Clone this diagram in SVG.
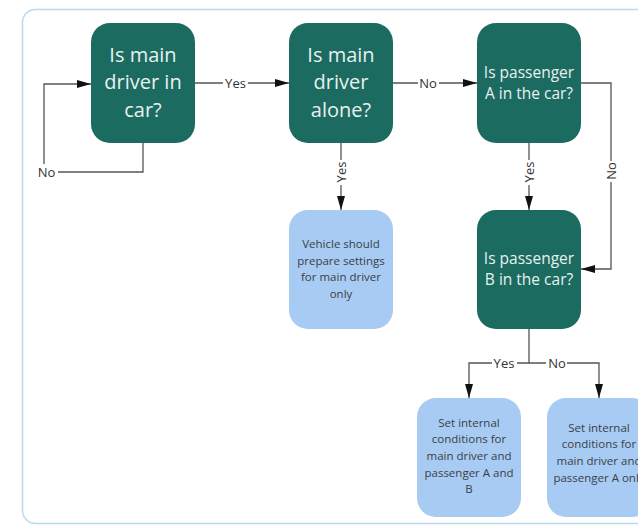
<svg xmlns="http://www.w3.org/2000/svg" width="638" height="525" viewBox="0 0 638 525">
<defs>
<marker id="arr" viewBox="0 0 14 8" markerWidth="14" markerHeight="8" refX="14" refY="4" orient="auto" markerUnits="userSpaceOnUse">
<path d="M0,0 L14,4 L0,8 z" fill="#111"/>
</marker>
<style>
.dark{fill:#1b6b61;}
.light{fill:#a7cbf3;}
.dt{font-family:"Open Sans","Liberation Sans",sans-serif;fill:#e8f1ef;text-anchor:middle;}
.big{font-size:20px;}
.mid{font-size:15.5px;}
.lt{font-family:"Open Sans","Liberation Sans",sans-serif;fill:#3a3f47;text-anchor:middle;font-size:11.5px;}
.ln{fill:none;stroke:#555;stroke-width:1.3;}
.lb{font-family:"Open Sans","Liberation Sans",sans-serif;fill:#333;font-size:13px;text-anchor:middle;dominant-baseline:central;}
.bg{fill:#fff;}
</style>
</defs>
<rect x="0" y="0" width="638" height="525" fill="#fff"/>
<rect x="22.5" y="9.5" width="720" height="514" rx="13" fill="#fff" stroke="#b9d9f0" stroke-width="1.5"/>

<g id="connectors">
<path class="ln" d="M195 83 H289" marker-end="url(#arr)"/>
<path class="ln" d="M143 143 V172 H44 V84 H91" marker-end="url(#arr)"/>
<path class="ln" d="M393 83 H477" marker-end="url(#arr)"/>
<path class="ln" d="M341 143 V210" marker-end="url(#arr)"/>
<path class="ln" d="M529 143 V210" marker-end="url(#arr)"/>
<path class="ln" d="M581 83 H611 V269 H581" marker-end="url(#arr)"/>
<path class="ln" d="M529 329 V363 H469 V398" marker-end="url(#arr)"/>
<path class="ln" d="M529 363 H599 V398" marker-end="url(#arr)"/>
<rect class="bg" x="223" y="75" width="25" height="16"/>
<text class="lb" x="235.5" y="83">Yes</text>
<rect class="bg" x="35" y="164" width="23" height="16"/>
<text class="lb" x="46.5" y="172">No</text>
<rect class="bg" x="418" y="75" width="21" height="16"/>
<text class="lb" x="428" y="83">No</text>
<rect class="bg" x="333" y="160" width="16" height="25"/>
<text class="lb" x="341" y="172" transform="rotate(-90 341 172)">Yes</text>
<rect class="bg" x="521" y="160" width="16" height="25"/>
<text class="lb" x="529" y="172" transform="rotate(-90 529 172)">Yes</text>
<rect class="bg" x="603" y="161" width="16" height="21"/>
<text class="lb" x="611" y="171" transform="rotate(-90 611 171)">No</text>
<rect class="bg" x="492" y="355" width="25" height="16"/>
<text class="lb" x="504" y="363">Yes</text>
<rect class="bg" x="546" y="355" width="21" height="16"/>
<text class="lb" x="557" y="363">No</text>
</g>

<g id="n1">
<rect class="dark" x="91" y="23" width="104" height="120" rx="19"/>
<text class="dt big" x="143" y="61.5">Is main</text>
<text class="dt big" x="143" y="89">driver in</text>
<text class="dt big" x="143" y="116.5">car?</text>
</g>
<g id="n2">
<rect class="dark" x="289" y="23" width="104" height="120" rx="19"/>
<text class="dt big" x="341" y="61.5">Is main</text>
<text class="dt big" x="341" y="89">driver</text>
<text class="dt big" x="341" y="116.5">alone?</text>
</g>
<g id="n3">
<rect class="dark" x="477" y="23" width="104" height="120" rx="19"/>
<text class="dt mid" x="529" y="78.3">Is passenger</text>
<text class="dt mid" x="529" y="99.3">A in the car?</text>
</g>
<g id="n4">
<rect class="dark" x="477" y="210" width="104" height="119" rx="19"/>
<text class="dt mid" x="529" y="264">Is passenger</text>
<text class="dt mid" x="529" y="285">B in the car?</text>
</g>
<g id="n5">
<rect class="light" x="289" y="210" width="104" height="119" rx="19"/>
<text class="lt" x="341" y="248">Vehicle should</text>
<text class="lt" x="341" y="264.5">prepare settings</text>
<text class="lt" x="341" y="281">for main driver</text>
<text class="lt" x="341" y="297.5">only</text>
</g>
<g id="n6">
<rect class="light" x="417" y="398" width="104" height="119" rx="19"/>
<text class="lt" x="469" y="426.7">Set internal</text>
<text class="lt" x="469" y="443.3">conditions for</text>
<text class="lt" x="469" y="460">main driver and</text>
<text class="lt" x="469" y="476.7">passenger A and</text>
<text class="lt" x="469" y="493.3">B</text>
</g>
<g id="n7">
<rect class="light" x="547" y="398" width="104" height="119" rx="19"/>
<text class="lt" x="599" y="431.7">Set internal</text>
<text class="lt" x="599" y="448.3">conditions for</text>
<text class="lt" x="599" y="465">main driver and</text>
<text class="lt" x="599" y="481.7">passenger A only</text>
</g>
</svg>
